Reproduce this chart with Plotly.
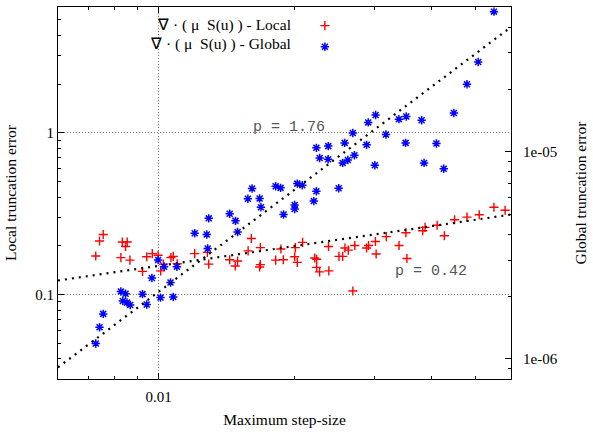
import plotly.graph_objects as go

# ---------------- data ----------------
local_x = [0.00727, 0.00741, 0.00755, 0.00826, 0.00832, 0.00846, 0.00853, 0.00865,
           0.00922, 0.00942, 0.00969, 0.00998, 0.01011, 0.01025, 0.01065, 0.01078,
           0.01100, 0.01202, 0.01282, 0.01291, 0.01436, 0.01477, 0.01495, 0.01577,
           0.01603, 0.01678, 0.01678, 0.01672, 0.01814, 0.01863, 0.01886, 0.01998,
           0.02005, 0.02025, 0.02080, 0.02212, 0.02234, 0.02234, 0.02268, 0.02373,
           0.02377, 0.02503, 0.02550, 0.02580, 0.02624, 0.02686, 0.02712, 0.02880,
           0.02908, 0.03012, 0.03023, 0.03183, 0.03396, 0.03517, 0.03535, 0.03830,
           0.03876, 0.04122, 0.04276, 0.04504, 0.04797, 0.05105, 0.05502, 0.05823]
local_err = [0.173, 0.214, 0.235, 0.169, 0.211, 0.198, 0.211, 0.163,
             0.139, 0.171, 0.179, 0.175, 0.140, 0.154, 0.169, 0.172,
             0.155, 0.179, 0.182, 0.154, 0.164, 0.150, 0.161, 0.186,
             0.222, 0.195, 0.153, 0.148, 0.163, 0.191, 0.164, 0.171,
             0.195, 0.158, 0.210, 0.168, 0.165, 0.147, 0.138, 0.198,
             0.140, 0.172, 0.172, 0.194, 0.188, 0.105, 0.201, 0.194,
             0.201, 0.2125, 0.178, 0.228, 0.201, 0.241, 0.167, 0.248,
             0.260, 0.268, 0.231, 0.290, 0.301, 0.311, 0.346, 0.332]

global_x = [0.00727, 0.00741, 0.00755, 0.00826, 0.00834, 0.00846, 0.00852, 0.00866,
            0.00922, 0.00942, 0.00967, 0.00998, 0.01010, 0.01029, 0.01063, 0.01078,
            0.01098, 0.01202, 0.01278, 0.01284, 0.01291, 0.01436, 0.01479, 0.01495,
            0.01575, 0.01609, 0.01672, 0.01683, 0.01814, 0.01860, 0.01888, 0.01998,
            0.01998, 0.02025, 0.02077, 0.02202, 0.02231, 0.02231, 0.02269, 0.02370,
            0.02368, 0.02499, 0.02550, 0.02576, 0.02618, 0.02685, 0.02707, 0.02880,
            0.02904, 0.03003, 0.03015, 0.03178, 0.03394, 0.03512, 0.03524, 0.03809,
            0.03857, 0.04107, 0.04263, 0.04488, 0.04797, 0.05079, 0.05502]
global_err = [1.187e-6, 1.423e-6, 1.650e-6, 2.117e-6, 1.903e-6, 2.062e-6, 1.873e-6, 1.822e-6,
              2.055e-6, 1.832e-6, 2.458e-6, 3.006e-6, 1.977e-6, 2.785e-6, 2.337e-6, 1.993e-6,
              2.785e-6, 4.044e-6, 3.990e-6, 3.415e-6, 4.771e-6, 5.023e-6, 4.641e-6, 4.102e-6,
              5.935e-6, 6.645e-6, 5.954e-6, 5.395e-6, 6.815e-6, 6.696e-6, 4.979e-6, 5.532e-6,
              5.295e-6, 7.020e-6, 6.891e-6, 5.781e-6, 6.451e-6, 1.045e-5, 9.338e-6, 1.065e-5,
              9.204e-6, 6.666e-6, 8.836e-6, 1.104e-5, 9.132e-6, 1.232e-5, 9.616e-6, 1.080e-5,
              1.386e-5, 8.617e-6, 1.504e-5, 1.211e-5, 1.437e-5, 1.104e-5, 1.480e-5, 1.421e-5,
              8.836e-6, 1.097e-5, 8.275e-6, 1.538e-5, 2.118e-5, 2.714e-5, 4.748e-5]

# fitted power-law lines (end points)
fit_x = [0.006, 0.06]
local_fit = [0.122, 0.312]
global_fit = [9.1e-7, 4.0e-5]

x_major = [0.01]
x_major_text = ["0.01"]
x_minor = [0.006, 0.007, 0.008, 0.009, 0.02, 0.03, 0.04, 0.05, 0.06]
y1_major = [0.1, 1]
y1_major_text = ["0.1", "1"]
y1_minor = [0.03, 0.04, 0.05, 0.06, 0.07, 0.08, 0.09, 0.2, 0.3, 0.4, 0.5, 0.6, 0.7, 0.8, 0.9, 2, 3, 4, 5, 6]
y2_major = [1e-6, 1e-5]
y2_major_text = ["1e-06", "1e-05"]
y2_minor = [8e-7, 9e-7, 2e-6, 3e-6, 4e-6, 5e-6, 6e-6, 7e-6, 8e-6, 9e-6, 2e-5, 3e-5, 4e-5, 5e-5]

legend_local = "∇ · ( μ\u00a0\u00a0S(u) ) - Local"
legend_global = "∇ · ( μ\u00a0\u00a0S(u) ) - Global"

SERIF = "Liberation Serif, Times New Roman, serif"
MONO = "Liberation Mono, Courier New, monospace"

fig = go.Figure()
fig.add_trace(go.Scatter(
    x=local_x, y=local_err, mode="markers", name="\u00a0",
    marker=dict(symbol="cross-thin-open", size=6.5, color="#ff0000",
                line=dict(color="#ff0000", width=1.4)),
    yaxis="y"))
fig.add_trace(go.Scatter(
    x=global_x, y=global_err, mode="markers", name="\u00a0",
    marker=dict(symbol="asterisk-open", size=7, color="#0000ff",
                line=dict(color="#0000ff", width=1.5)),
    yaxis="y2"))
fig.add_trace(go.Scatter(
    x=fit_x, y=local_fit, mode="lines", showlegend=False,
    line=dict(color="black", width=2.2, dash="2px,5px"), yaxis="y"))
fig.add_trace(go.Scatter(
    x=fit_x, y=global_fit, mode="lines", showlegend=False,
    line=dict(color="black", width=2.2, dash="2px,5px"), yaxis="y2"))

tickfont = dict(family=SERIF, size=15, color="black")
titlefont = dict(family=SERIF, size=15.5, color="black")

fig.update_layout(
    width=593, height=432,
    margin=dict(l=58, r=75, t=6, b=49),
    paper_bgcolor="white", plot_bgcolor="white",
    font=dict(family=SERIF, size=14, color="black"),
    showlegend=True,
    legend=dict(x=0.545, y=0.992, xanchor="left", yanchor="top",
                bgcolor="rgba(0,0,0,0)", borderwidth=0, tracegroupgap=0,
                font=dict(family=SERIF, size=14), itemwidth=30),
    xaxis=dict(type="log", range=[-2.2218487, -1.2218487],
               showline=True, linecolor="black", linewidth=1, mirror="ticks",
               ticks="inside", ticklen=6, tickcolor="black", tickwidth=1,
               tickmode="array", tickvals=x_major, ticktext=x_major_text,
               tickfont=tickfont, ticklabelstandoff=4,
               minor=dict(tickmode="array", tickvals=x_minor, ticks="inside",
                          ticklen=3, tickcolor="black", showgrid=False),
               showgrid=True, gridcolor="#777777", gridwidth=1, griddash="1px,2px",
               zeroline=False,
               title=dict(text="Maximum step-size", font=titlefont, standoff=10)),
    yaxis=dict(type="log", range=[-1.5228787, 0.7781513],
               showline=True, linecolor="black", linewidth=1, mirror=False,
               ticks="inside", ticklen=6, tickcolor="black", tickwidth=1,
               tickmode="array", tickvals=y1_major, ticktext=y1_major_text,
               tickfont=tickfont,
               minor=dict(tickmode="array", tickvals=y1_minor, ticks="inside",
                          ticklen=3, tickcolor="black", showgrid=False),
               showgrid=True, gridcolor="#777777", gridwidth=1, griddash="1px,2px",
               zeroline=False,
               title=dict(text="Local truncation error", font=titlefont, standoff=14)),
    yaxis2=dict(type="log", range=[-6.09691, -4.30103], overlaying="y", side="right",
                showline=True, linecolor="black", linewidth=1,
                ticks="inside", ticklen=6, tickcolor="black", tickwidth=1,
                tickmode="array", tickvals=y2_major, ticktext=y2_major_text,
                tickfont=tickfont, ticklabelstandoff=8,
                minor=dict(tickmode="array", tickvals=y2_minor, ticks="inside",
                           ticklen=3, tickcolor="black", showgrid=False),
                showgrid=False, zeroline=False,
                title=dict(text="Global truncation error", font=titlefont, standoff=18)),
    annotations=[
        dict(text=legend_local, xref="paper", yref="paper", x=0.5196, y=0.9523,
             xanchor="right", yanchor="middle", showarrow=False,
             font=dict(family=SERIF, size=15.5, color="black")),
        dict(text=legend_global, xref="paper", yref="paper", x=0.5196, y=0.8992,
             xanchor="right", yanchor="middle", showarrow=False,
             font=dict(family=SERIF, size=15.5, color="black")),
        dict(text="p = 1.76", x=-1.7109, y=0.0336, xref="x", yref="y",
             xanchor="center", yanchor="middle", showarrow=False,
             font=dict(family=MONO, size=15, color="#555555")),
        dict(text="p = 0.42", x=-1.3979, y=-0.8576, xref="x", yref="y",
             xanchor="center", yanchor="middle", showarrow=False,
             font=dict(family=MONO, size=15, color="#555555")),
    ],
)

fig.write_html("out.html")
